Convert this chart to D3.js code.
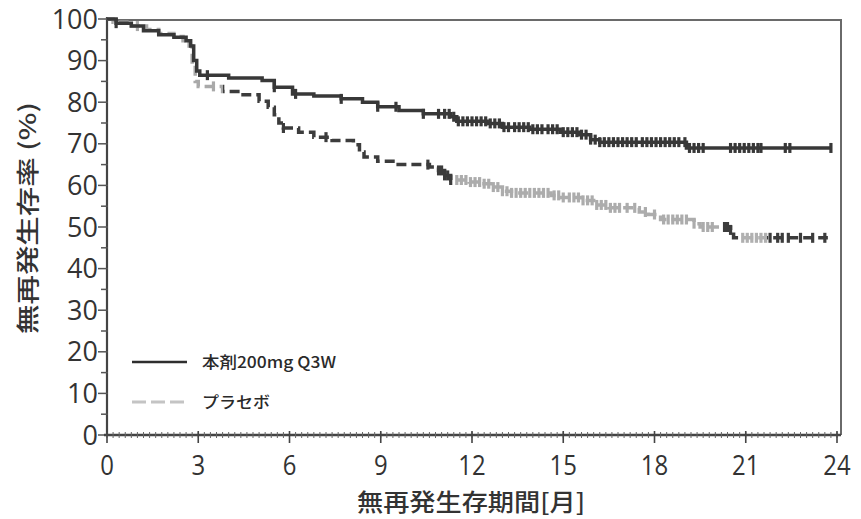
<!DOCTYPE html>
<html><head><meta charset="utf-8">
<script src="https://cdn.jsdelivr.net/npm/d3@7"></script>
<style>body{margin:0;background:#fff}svg{display:block}</style>
</head><body><svg id="c" width="861" height="519"></svg>
<script>
// ---- data ----
const xTicks = [0,3,6,9,12,15,18,21,24];
const yTicks = [0,10,20,30,40,50,60,70,80,90,100];
const seriesNames = ["本剤200mg Q3W","プラセボ"];
const xTitle = "無再発生存期間[月]";
const yTitle = "無再発生存率 (%)";

const treatTime = [0,0.3,0.8,1.2,1.7,2.2,2.6,2.75,2.85,2.95,3.05,4.0,5.1,5.5,6.1,6.8,7.7,8.4,8.9,9.6,10.4,11.3,11.5,12.5,13.0,13.9,14.9,15.5,15.9,16.2,19.05,23.8];
const treatSurv = [100,99.0,98.3,97.2,96.2,95.6,94.8,93.5,90,87.5,86.5,85.8,85.2,83.6,82.0,81.5,80.8,80.0,78.9,78.0,77.2,76.5,75.4,74.9,74.0,73.5,72.8,72.2,71.0,70.4,69.0,69.0];
const treatCensor = [0.3,3.3,5.5,6.2,7.7,8.9,9.5,10.4,10.9,11.1,11.25,11.4,11.55,11.7,11.85,12.0,12.15,12.3,12.45,12.6,12.75,12.9,13.05,13.2,13.4,13.55,13.7,13.85,14.0,14.15,14.3,14.5,14.65,14.8,15.0,15.15,15.3,15.45,15.6,15.75,15.9,16.05,16.2,16.35,16.5,16.65,16.8,16.95,17.1,17.25,17.4,17.6,17.75,17.9,18.05,18.2,18.35,18.5,18.65,18.8,19.0,19.15,19.3,19.45,19.6,20.5,20.65,20.8,20.95,21.1,21.25,21.4,21.5,22.3,22.45,23.8];

const placTime = [0,0.2,0.8,1.3,1.7,2.2,2.5,2.7,2.8,2.9,3.0,3.8,4.4,5.0,5.3,5.5,5.65,5.8,6.3,6.8,7.4,8.1,8.3,8.45,8.9,9.5,10.6,10.9,11.1,11.3,11.9,12.3,12.7,13.0,13.3,14.6,14.9,15.6,16.0,16.5,17.5,17.8,18.2,19.3,19.5,20.5,20.6,23.7];
const placSurv = [100,99.2,98.3,97.5,96.5,95.8,94.8,93.5,89,85,83.8,82.6,81.8,80.2,78.8,77.0,75.0,73.8,72.8,71.6,70.8,69.8,68.0,66.8,65.8,65.0,64.4,63.6,62.4,61.3,60.8,60.4,59.6,58.6,58.2,57.6,57.1,56.4,55.3,54.6,53.6,53.0,51.8,50.8,50.0,49.3,47.4,47.4];
const placCensor = [1.0,3.5,5.8,7.2,10.55,10.9,11.0,11.1,11.2,11.3,11.5,11.65,11.8,11.95,12.1,12.25,12.4,12.55,12.7,12.85,13.0,13.15,13.3,13.45,13.6,13.75,13.9,14.05,14.2,14.35,14.5,14.7,14.85,15.0,15.2,15.35,15.5,15.65,15.8,15.95,16.1,16.25,16.4,16.55,16.7,16.85,17.1,17.35,17.7,18.0,18.3,18.45,18.6,18.75,18.9,19.05,19.3,19.6,19.75,19.9,20.3,20.4,20.5,20.9,21.05,21.2,21.35,21.5,21.65,21.8,22.05,22.2,22.4,22.8,23.2,23.6];
// shade breaks of the placebo curve as it appears in the print
const placShadeAt = [0,3.8,11.4,20.25,20.75,21.7];
const placShade   = ["#a9a9a9","#3c3c3c","#acacac","#3c3c3c","#b0b0b0","#3c3c3c"];

// ---- layout ----
const svg = d3.select("#c");
const x = d3.scaleLinear().domain([0,24]).range([107,837]);
const y = d3.scaleLinear().domain([0,100]).range([435,19]);
const frameR = 841, frameT = 20;

const defs = svg.append("defs");
const g = defs.append("linearGradient").attr("id","plac").attr("gradientUnits","userSpaceOnUse")
  .attr("x1",x(0)).attr("x2",x(24)).attr("y1",0).attr("y2",0);
placShadeAt.forEach((t,i)=>{
  const next = i<placShadeAt.length-1 ? placShadeAt[i+1]/24 : 1;
  g.append("stop").attr("offset",t/24).attr("stop-color",placShade[i]);
  g.append("stop").attr("offset",next).attr("stop-color",placShade[i]);
});

// frame
svg.append("path").attr("d",`M${x(0)},${frameT}H${frameR}V${y(0)}`)
  .attr("fill","none").attr("stroke","#6a6a6a").attr("stroke-width",2);

// y axis
const yAxis = svg.append("g");
yAxis.append("line").attr("x1",x(0)).attr("x2",x(0)).attr("y1",frameT-3).attr("y2",y(0)+1)
  .attr("stroke","#444").attr("stroke-width",2.2);
d3.range(0,101,5).forEach(v=>{
  const major = v%10===0;
  yAxis.append("line").attr("x1",x(0)-(major?9:6)).attr("x2",x(0)+1).attr("y1",y(v)).attr("y2",y(v))
    .attr("stroke","#555").attr("stroke-width",1.5);
});
yAxis.selectAll("text").data(yTicks).join("text")
  .attr("x",98).attr("y",d=>y(d)+9.5).attr("text-anchor","end")
  .attr("font-family","Open Sans").attr("font-size",27).attr("fill","#333").text(d=>d);

// x axis
const xAxis = svg.append("g");
xAxis.append("line").attr("x1",x(0)-3).attr("x2",frameR).attr("y1",y(0)).attr("y2",y(0))
  .attr("stroke","#444").attr("stroke-width",2.4);
d3.range(0,24.01,0.2).forEach(t=>{
  xAxis.append("line").attr("x1",x(t)).attr("x2",x(t)).attr("y1",y(0)-3).attr("y2",y(0)+3)
    .attr("stroke","#666").attr("stroke-width",1);
});
xTicks.forEach(t=>{
  xAxis.append("line").attr("x1",x(t)).attr("x2",x(t)).attr("y1",y(0)-4).attr("y2",y(0)+8)
    .attr("stroke","#444").attr("stroke-width",1.6);
});
xAxis.selectAll("text").data(xTicks).join("text")
  .attr("transform",d=>`translate(${x(d)},475) scale(0.92,1.08)`).attr("text-anchor","middle")
  .attr("font-family","Open Sans").attr("font-size",26).attr("fill","#333").text(d=>d);

// titles
svg.append("text").attr("x",471).attr("y",511).attr("text-anchor","middle")
  .attr("font-family","Noto Sans CJK JP").attr("font-size",24).attr("font-weight",500).attr("fill","#333")
  .attr("textLength",228).attr("lengthAdjust","spacingAndGlyphs").text(xTitle);
svg.append("text").attr("transform","translate(36,218) rotate(-90)").attr("text-anchor","middle")
  .attr("font-family","Noto Sans CJK JP").attr("font-size",23).attr("font-weight",500).attr("fill","#333")
  .attr("textLength",232).attr("lengthAdjust","spacingAndGlyphs").text(yTitle);

function stepLine(ts, ss){
  return d3.line().x(d=>x(d[0])).y(d=>y(d[1])).curve(d3.curveStepAfter)(ts.map((t,i)=>[t,ss[i]]));
}
function survAt(ts, ss, t){
  const i = d3.bisectRight(ts,t)-1;
  return ss[Math.max(0,i)];
}

// placebo
svg.append("path").attr("d",stepLine(placTime,placSurv)).attr("fill","none")
  .attr("stroke","url(#plac)").attr("stroke-width",3.5).attr("stroke-dasharray","10,5");
svg.append("g").selectAll("line").data(placCensor).join("line")
  .attr("x1",d=>x(d)).attr("x2",d=>x(d))
  .attr("y1",d=>y(survAt(placTime,placSurv,d))-5).attr("y2",d=>y(survAt(placTime,placSurv,d))+5)
  .attr("stroke","url(#plac)").attr("stroke-width",3.2);

// treatment
svg.append("path").attr("d",stepLine(treatTime,treatSurv)).attr("fill","none")
  .attr("stroke","#383838").attr("stroke-width",3.5);
svg.append("g").selectAll("line").data(treatCensor).join("line")
  .attr("x1",d=>x(d)).attr("x2",d=>x(d))
  .attr("y1",d=>y(survAt(treatTime,treatSurv,d))-5).attr("y2",d=>y(survAt(treatTime,treatSurv,d))+5)
  .attr("stroke","#383838").attr("stroke-width",3.2);

// legend
const leg = svg.append("g");
leg.append("line").attr("x1",132).attr("x2",187).attr("y1",362).attr("y2",362)
  .attr("stroke","#2e2e2e").attr("stroke-width",2.5);
leg.append("line").attr("x1",132).attr("x2",187).attr("y1",402).attr("y2",402)
  .attr("stroke","#c4c4c4").attr("stroke-width",3).attr("stroke-dasharray","14,5");
leg.append("text").attr("x",202).attr("y",368).attr("font-family","Noto Sans CJK JP").attr("font-size",16).attr("font-weight",500)
  .attr("fill","#2a2a2a").attr("textLength",134).attr("lengthAdjust","spacingAndGlyphs").text(seriesNames[0]);
leg.append("text").attr("x",202).attr("y",408).attr("font-family","Noto Sans CJK JP").attr("font-size",16).attr("font-weight",500)
  .attr("fill","#2a2a2a").attr("textLength",68).attr("lengthAdjust","spacingAndGlyphs").text(seriesNames[1]);
</script></body></html>
